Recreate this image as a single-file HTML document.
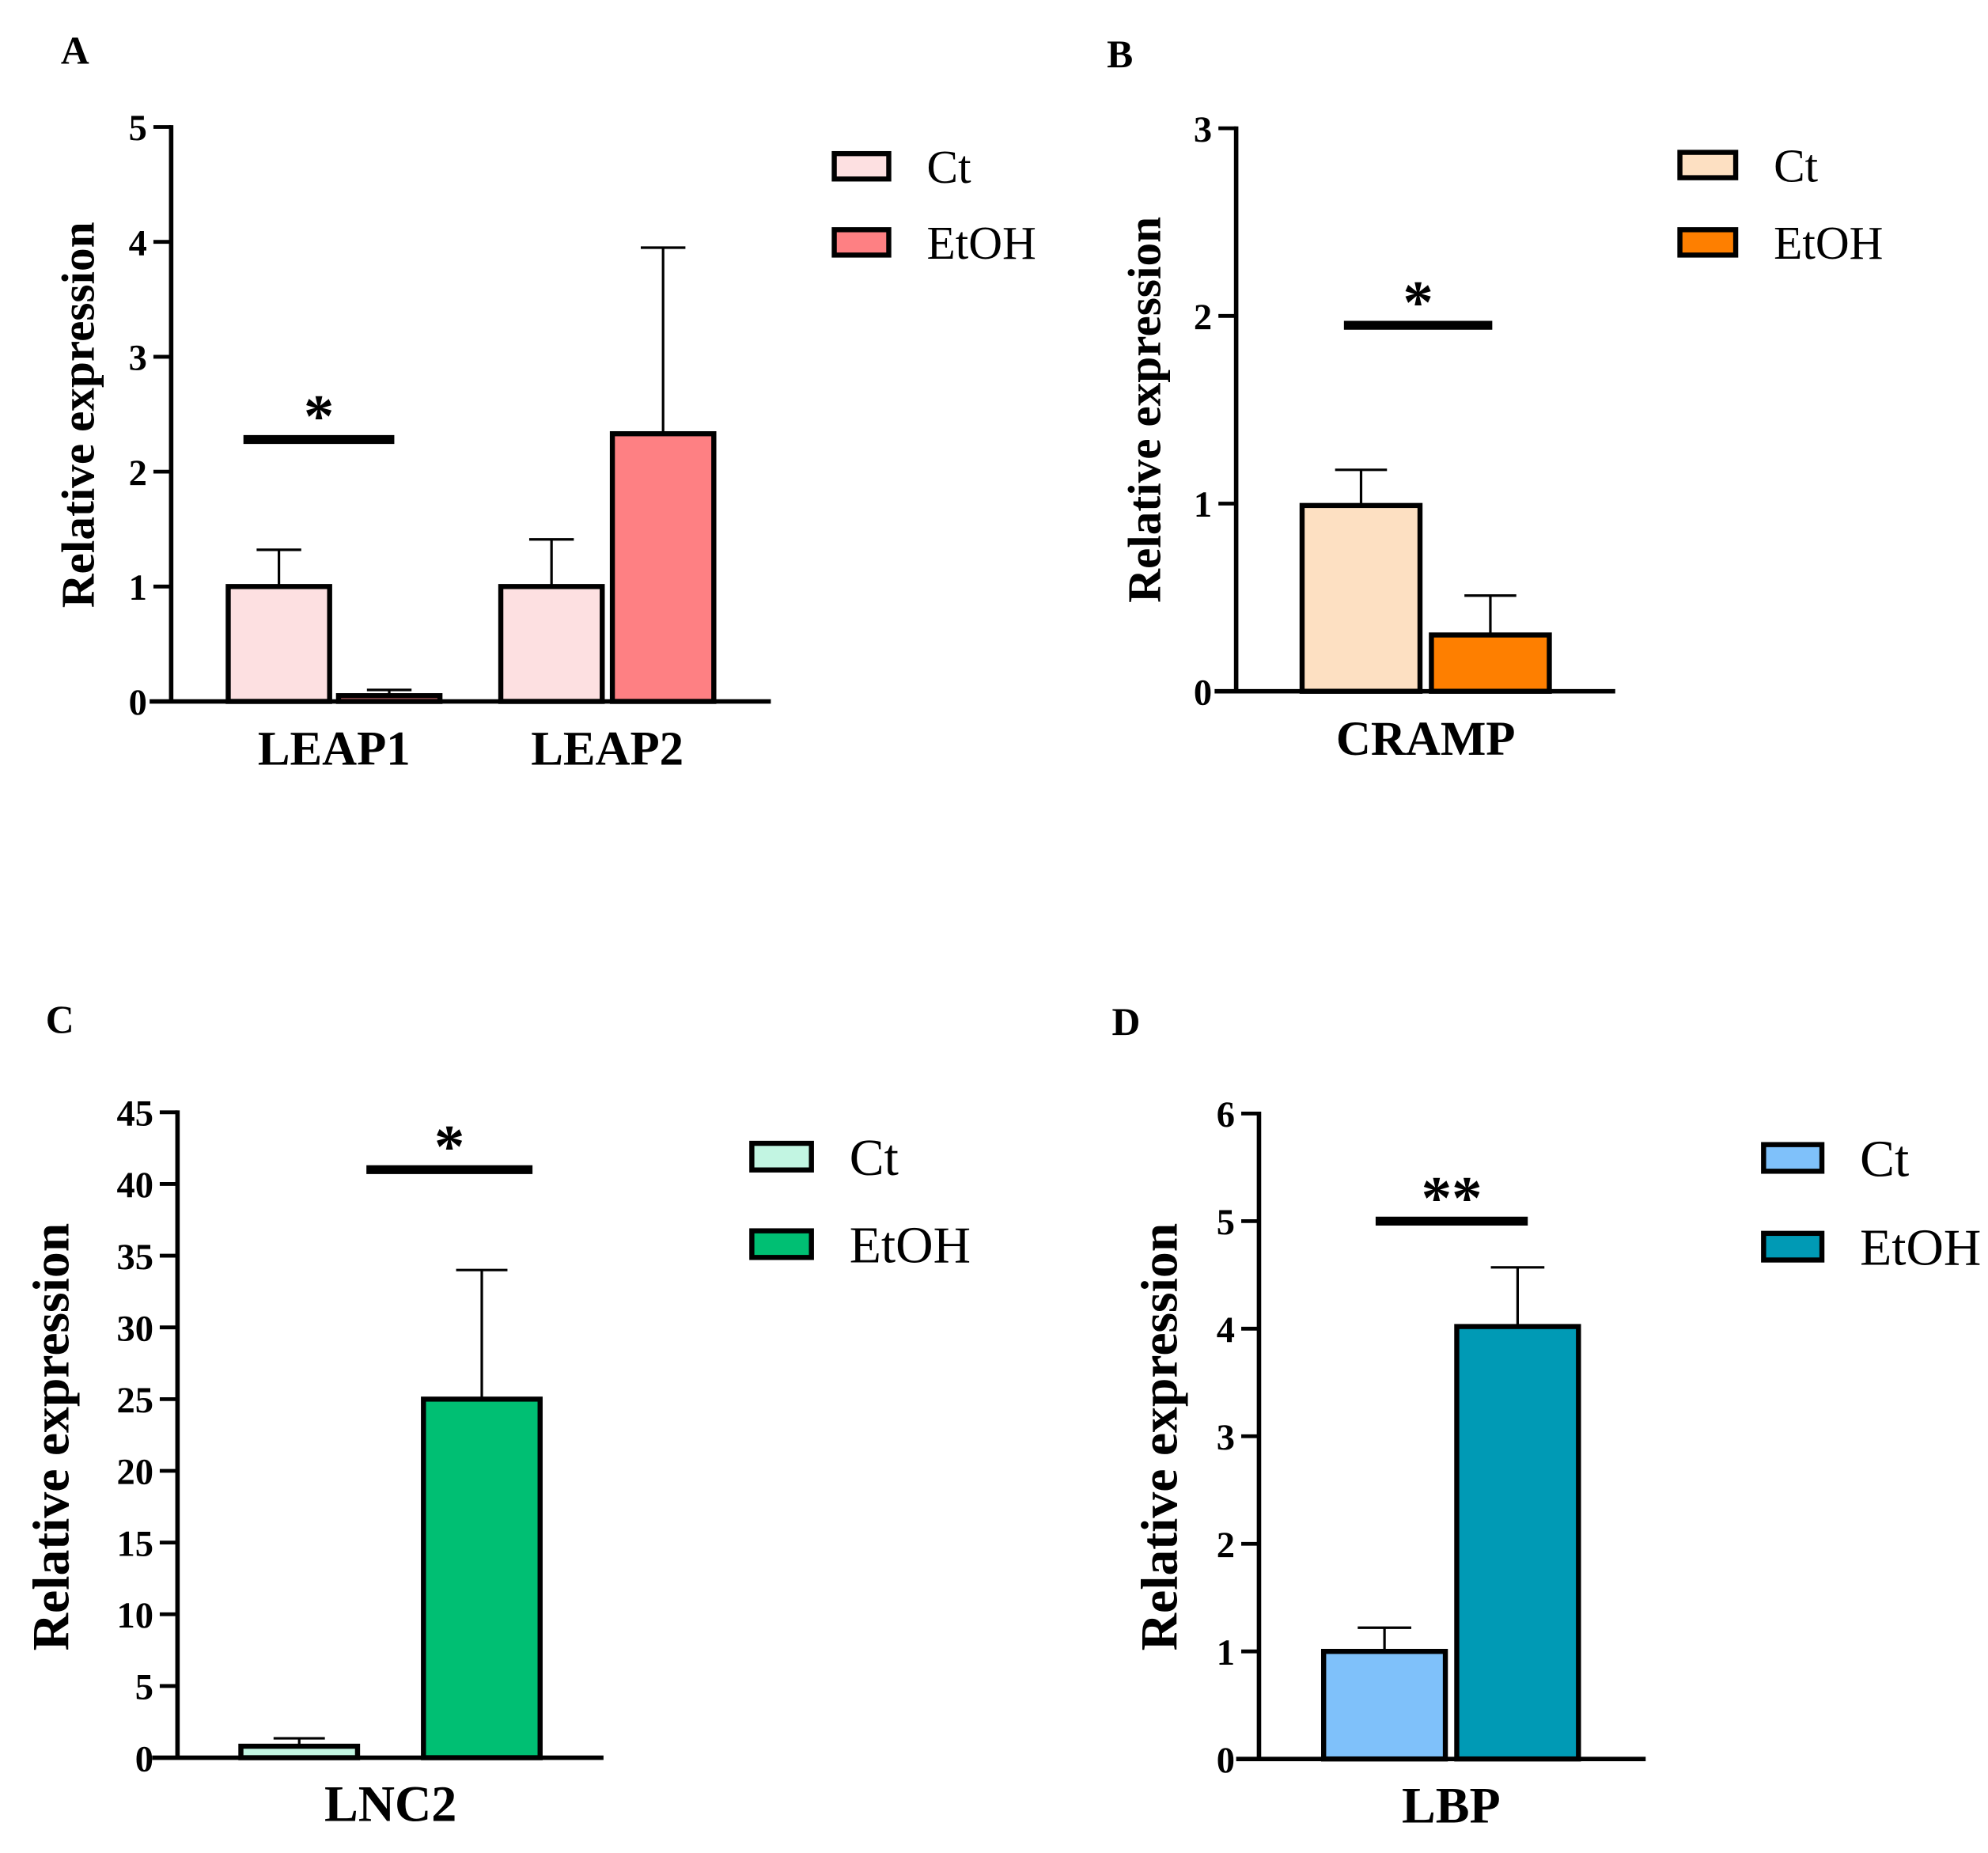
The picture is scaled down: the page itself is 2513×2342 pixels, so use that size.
<!DOCTYPE html>
<html><head><meta charset="utf-8"><style>
html,body{margin:0;padding:0;background:#fff}
svg{display:block}
text{font-family:"Liberation Serif",serif}
</style></head><body>
<svg id="fig" width="2513" height="2342" viewBox="0 0 1568 1461" xmlns="http://www.w3.org/2000/svg"></svg>
<script>
// Panel A data
const aCategories = ["LEAP1", "LEAP2"];
const aCt = [1.0, 1.0];
const aCtErr = [1.32, 1.41];
const aEtOH = [0.05, 2.33];
const aEtOHErr = [0.1, 3.95];
const aTicks = [0, 1, 2, 3, 4, 5];
// Panel B data
const bCategories = ["CRAMP"];
const bCt = [0.99];
const bCtErr = [1.18];
const bEtOH = [0.3];
const bEtOHErr = [0.51];
const bTicks = [0, 1, 2, 3];
// Panel C data
const cCategories = ["LNC2"];
const cCt = [0.8];
const cCtErr = [1.35];
const cEtOH = [25];
const cEtOHErr = [34];
const cTicks = [0, 5, 10, 15, 20, 25, 30, 35, 40, 45];
// Panel D data
const dCategories = ["LBP"];
const dCt = [1.0];
const dCtErr = [1.22];
const dEtOH = [4.02];
const dEtOHErr = [4.57];
const dTicks = [0, 1, 2, 3, 4, 5, 6];

const NS = "http://www.w3.org/2000/svg";
const svg = document.getElementById("fig");
function mk(tag, attrs, parent, txt) {
  const e = document.createElementNS(NS, tag);
  for (const k in attrs) e.setAttribute(k, attrs[k]);
  if (txt !== undefined) e.textContent = txt;
  (parent || svg).appendChild(e);
  return e;
}

function panel(cfg) {
  const g = mk("g", {});
  
  
  const ymax = cfg.ticks[cfg.ticks.length - 1];
  const y = v => cfg.y0 - (v / ymax) * (cfg.y0 - cfg.ytop);
  const L = mk("text", {x: cfg.letterX, y: cfg.letterY, "font-size": 31, "font-weight": "bold"}, g, cfg.letter);
  
  
  cfg.cats.forEach((c, i) => {
    const gx = cfg.groupX[i];
    [[cfg.ct[i], cfg.ctErr[i], cfg.ctColor, gx[0], 'ct'], [cfg.et[i], cfg.etErr[i], cfg.etColor, gx[1], 'etoh']].forEach(([v, e, col, x, s]) => {
      const cx = x + cfg.bw / 2;
      const el = mk("line", {x1: cx, x2: cx, y1: y(v), y2: y(e), stroke: "#000", "stroke-width": 2}, g);
      
      
      const cap = mk("line", {x1: cx - cfg.bw * 0.22, x2: cx + cfg.bw * 0.22, y1: y(e), y2: y(e), stroke: "#000", "stroke-width": 2}, g);
      
      
      const r = mk("rect", {x: x, y: y(v), width: cfg.bw, height: Math.max(cfg.y0 - y(v), 1), fill: col, stroke: "#000", "stroke-width": 4}, g);
      
      
    });
    const lab = mk("text", {x: (gx[0] + gx[1] + cfg.bw) / 2, y: cfg.y0 + 50, "font-size": cfg.catFs, "font-weight": "bold", "text-anchor": "middle"}, g, c);
    
    
  });
  const ya = mk("line", {x1: cfg.ax, x2: cfg.ax, y1: cfg.ytop - 1.5, y2: cfg.y0 + 1.5, stroke: "#000", "stroke-width": 3.5}, g);
  
  
  const xa = mk("line", {x1: cfg.xStart, x2: cfg.xEnd, y1: cfg.y0, y2: cfg.y0, stroke: "#000", "stroke-width": 3.5}, g);
  
  
  cfg.ticks.forEach(t => {
    const tk = mk("line", {x1: cfg.ax - 14, x2: cfg.ax, y1: y(t), y2: y(t), stroke: "#000", "stroke-width": 3}, g);
    
    
    const tl = mk("text", {x: cfg.ax - 19, y: y(t) + cfg.tickFs * 0.36, "font-size": cfg.tickFs, "font-weight": "bold", "text-anchor": "end"}, g, String(t));
    
    
  });
  const yt = mk("text", {x: 0, y: 0, "font-size": cfg.titleFs, "font-weight": "bold", "text-anchor": "middle", transform: `translate(${cfg.titleX},${cfg.titleCY}) rotate(-90)`}, g, "Relative expression");
  
  
  const sb = mk("line", {x1: cfg.sig[0], x2: cfg.sig[1], y1: y(cfg.sig[2]), y2: y(cfg.sig[2]), stroke: "#000", "stroke-width": 7}, g);
  
  
  const st = mk("text", {x: (cfg.sig[0] + cfg.sig[1]) / 2, y: y(cfg.sig[2]) - 2, "font-size": 48, "font-weight": "bold", "text-anchor": "middle"}, g, cfg.stars);
  
  
  [["Ct", cfg.ctColor, cfg.legY[0]], ["EtOH", cfg.etColor, cfg.legY[1]]].forEach(([n, col, ly]) => {
    const lg = mk("g", {}, g);
    
    
    mk("rect", {x: cfg.legX, y: ly - cfg.legH / 2, width: cfg.legW, height: cfg.legH, fill: col, stroke: "#000", "stroke-width": 4}, lg);
    mk("text", {x: cfg.legX + cfg.legW + 30, y: ly + cfg.legFs * 0.35, "font-size": cfg.legFs}, lg, n);
  });
}

panel({letter: "A", letterX: 48, letterY: 50, cats: aCategories, ct: aCt, ctErr: aCtErr, et: aEtOH, etErr: aEtOHErr, ticks: aTicks,
  ctColor: "#fde0e1", etColor: "#fe8083", ax: 135, y0: 553, ytop: 100, xStart: 118, xEnd: 608,
  groupX: [[180, 267], [395, 483]], bw: 80, tickFs: 29, titleFs: 37, titleX: 74, titleCY: 327, catFs: 38,
  sig: [192, 311, 2.28], stars: "*", legX: 658, legY: [131, 191], legW: 43, legH: 20, legFs: 37});
panel({letter: "B", letterX: 873, letterY: 53, cats: bCategories, ct: bCt, ctErr: bCtErr, et: bEtOH, etErr: bEtOHErr, ticks: bTicks,
  ctColor: "#fde0c2", etColor: "#fe7f00", ax: 975, y0: 545, ytop: 101, xStart: 958, xEnd: 1274,
  groupX: [[1027, 1129]], bw: 93, tickFs: 29, titleFs: 37, titleX: 915, titleCY: 323, catFs: 38,
  sig: [1060, 1177, 1.95], stars: "*", legX: 1325, legY: [130, 191], legW: 44, legH: 20, legFs: 37});
panel({letter: "C", letterX: 36, letterY: 814, cats: cCategories, ct: cCt, ctErr: cCtErr, et: cEtOH, etErr: cEtOHErr, ticks: cTicks,
  ctColor: "#c2f5e2", etColor: "#00bf73", ax: 140, y0: 1386, ytop: 877, xStart: 120, xEnd: 476,
  groupX: [[190, 334]], bw: 92, tickFs: 29, titleFs: 41, titleX: 54, titleCY: 1133, catFs: 40,
  sig: [289, 420, 41], stars: "*", legX: 593, legY: [912, 981], legW: 47, legH: 21, legFs: 41});
panel({letter: "D", letterX: 877, letterY: 816, cats: dCategories, ct: dCt, ctErr: dCtErr, et: dEtOH, etErr: dEtOHErr, ticks: dTicks,
  ctColor: "#7fc1fa", etColor: "#009ab5", ax: 993, y0: 1387, ytop: 878, xStart: 975, xEnd: 1298,
  groupX: [[1044, 1149]], bw: 96, tickFs: 29, titleFs: 41, titleX: 928, titleCY: 1133, catFs: 40,
  sig: [1085, 1205, 5.0], stars: "**", legX: 1391, legY: [913, 983], legW: 46, legH: 21, legFs: 41});
</script>
</body></html>
